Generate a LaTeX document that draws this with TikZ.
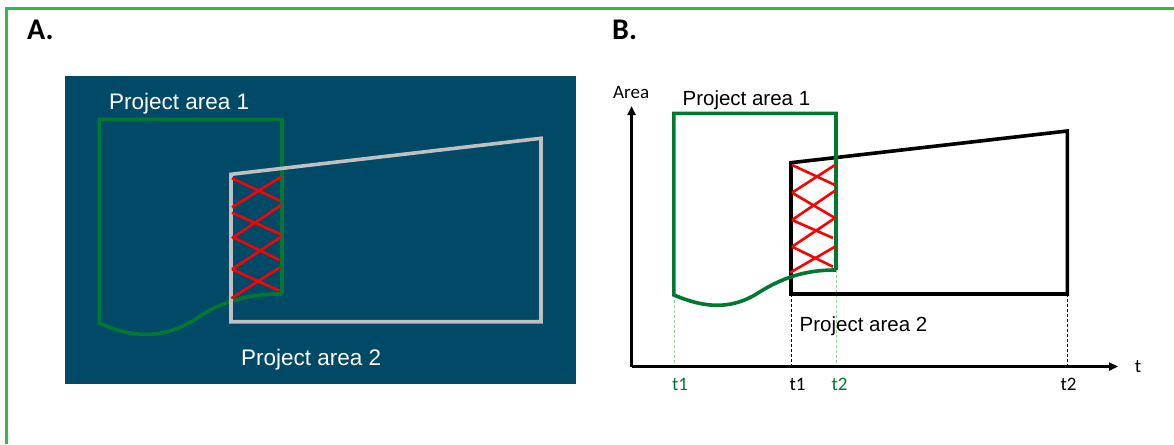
\documentclass[tikz,border=0pt]{standalone}
\usepackage{fontspec}
\setmainfont{Liberation Sans}
\newfontfamily\calib{Carlito}
\usetikzlibrary{arrows.meta}
\definecolor{frameg}{RGB}{60,180,75}
\definecolor{navy}{RGB}{0,73,103}
\definecolor{pgreen}{RGB}{0,120,50}
\definecolor{lgreen}{RGB}{150,210,150}
\definecolor{lgray}{RGB}{192,192,192}
\definecolor{xred}{RGB}{255,0,0}
\tikzset{
  panellabel/.style={anchor=base west,inner sep=0pt,font=\calib\bfseries\fontsize{30}{34}\selectfont},
  bigtxt/.style={anchor=base west,inner sep=0pt,font=\fontsize{22.5}{26}\selectfont},
  midtxt/.style={anchor=base west,inner sep=0pt,font=\fontsize{20.5}{24}\selectfont},
  smalltxt/.style={anchor=base,inner sep=0pt,font=\calib\fontsize{19}{22}\selectfont},
  greenarea/.style={draw=pgreen,line width=3.6pt,line join=miter},
  hatch/.style={draw=xred,line width=2.6pt},
  guide/.style={dash pattern=on 3pt off 2pt,line width=0.7pt},
  axis/.style={draw=black,line width=2.6pt,-{Triangle[length=9pt,width=8pt]}}
}
\begin{document}
\begin{tikzpicture}[x=1pt,y=-1pt]
\useasboundingbox (0,0) rectangle (1174,444);
% frame
\draw[frameg,line width=2.2pt] (6.5,444) -- (6.5,8.5) -- (1174,8.5);
\node[panellabel] (la) at (27,40) {A.};
\node[panellabel] (lb) at (612,40) {B.};

% ---------- Panel A ----------
\fill[navy] (65,76) rectangle (576,384);
\draw[greenarea] (282,294) -- (282,119.3) -- (99.3,119.3) -- (99.3,323)
  .. controls (135,340) and (170,338) .. (200,316)
  .. controls (230,297) and (258,294) .. (282,294);
\draw[lgray,line width=3.6pt] (231,321.7) -- (231,174.3) -- (541,138.3) -- (541,321.7) -- cycle;
\draw[hatch] (232,178.3) -- (280,200.7);
\draw[hatch] (232,207.3) -- (281.3,176.7);
\draw[hatch] (232,212.7) -- (280.7,234.3);
\draw[hatch] (232,238.3) -- (281.3,205);
\draw[hatch] (232,236.7) -- (279.3,260);
\draw[hatch] (232,269.3) -- (281.3,236.7);
\draw[hatch] (232,269.3) -- (279.3,290.7);
\draw[hatch] (231.3,298.3) -- (280,267.3);
\node[bigtxt,text=white] (pa1) at (109,109.3) {Project area 1};
\node[bigtxt,text=white] (pa2) at (241,365) {Project area 2};

% ---------- Panel B ----------
\coordinate (o) at (631.5,366.5);
\coordinate (ytip) at (631.5,106);
\coordinate (xtip) at (1118,366.5);
% guides
\draw[guide,lgreen] (674,295) -- (674,366.5);
\draw[guide,lgreen] (836,270) -- (836,366.5);
\draw[guide,black] (791,294) -- (791,366.5);
\draw[guide,black] (1067.4,294) -- (1067.4,366.5);
% areas
\draw[black,line width=3.6pt,line join=miter] (791,294) -- (791,162.7) -- (1067.4,131) -- (1067.4,294) -- cycle;
\draw[greenarea] (836,270) -- (836,113.3) -- (673.9,113.3) -- (673.9,295)
  .. controls (700,306) and (728,312) .. (758,293)
  .. controls (788,274) and (812,270) .. (836,270);
\draw[hatch] (792,165) -- (835,185);
\draw[hatch] (792,192.7) -- (835,165);
\draw[hatch] (792,192.7) -- (835,218);
\draw[hatch] (792,220) -- (835,190.7);
\draw[hatch] (792,220) -- (833,238);
\draw[hatch] (792,246.7) -- (835,218);
\draw[hatch] (792,246.7) -- (833,266.7);
\draw[hatch] (790,272.7) -- (835,246.7);
% axes
\draw[axis] (o) -- (ytip);
\draw[axis] (o) -- (xtip);
\node[smalltxt,anchor=base west] (area) at (613,98.3) {Area};
\node[smalltxt] (tl) at (1138,372.7) {t};
\node[smalltxt,text=pgreen] (t1g) at (680,390) {t1};
\node[smalltxt] (t1b) at (797.5,390) {t1};
\node[smalltxt,text=pgreen] (t2g) at (839.5,390) {t2};
\node[smalltxt] (t2b) at (1068.5,390) {t2};
\node[midtxt] (pb1) at (682.4,105) {Project area 1};
\node[midtxt] (pb2) at (799.5,331.7) {Project area 2};
\end{tikzpicture}
\end{document}
